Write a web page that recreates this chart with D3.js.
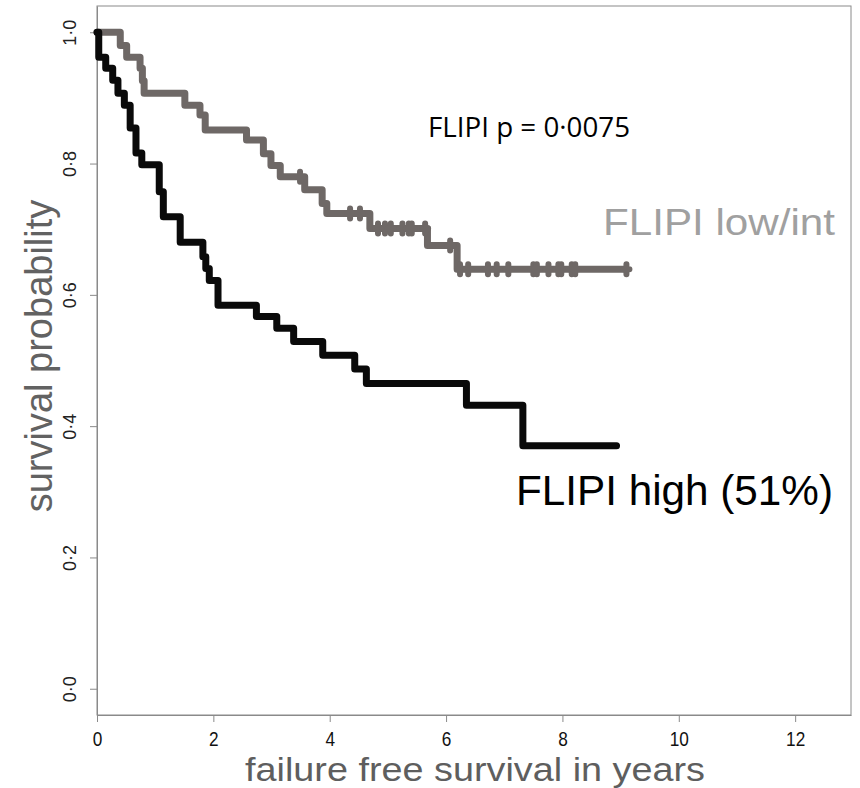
<!DOCTYPE html>
<html>
<head>
<meta charset="utf-8">
<script src="https://cdn.jsdelivr.net/npm/d3@7"></script>
<style>
  body { margin: 0; background: #fff; }
  svg { display: block; }
</style>
</head>
<body>
<script>
'use strict';

// FLIPI high (black) – event times (years) and survival after each step
var highTime = [0, 0.03, 0.15, 0.27, 0.36, 0.47, 0.57, 0.67, 0.77, 1.07, 1.14, 1.43, 1.82, 1.87, 1.93, 2.08, 2.74, 3.09, 3.38, 3.88, 4.43, 4.63, 6.35, 7.32, 8.93];
var highSurv = [1.0, 0.962, 0.945, 0.927, 0.907, 0.889, 0.854, 0.816, 0.798, 0.757, 0.719, 0.680, 0.658, 0.640, 0.622, 0.584, 0.567, 0.549, 0.529, 0.508, 0.487, 0.465, 0.432, 0.370, 0.370];

// FLIPI low/int (grey)
var lowTime = [0, 0.40, 0.51, 0.74, 0.78, 0.81, 1.51, 1.77, 1.86, 2.57, 2.86, 2.99, 3.15, 3.57, 3.87, 3.95, 4.69, 5.68, 6.19, 9.10];
var lowSurv = [1.0, 0.980, 0.962, 0.945, 0.926, 0.907, 0.889, 0.874, 0.851, 0.836, 0.815, 0.797, 0.780, 0.760, 0.739, 0.724, 0.701, 0.675, 0.639, 0.639];
var lowCensor = [3.49, 4.35, 4.52, 4.83, 4.95, 5.05, 5.25, 5.36, 5.41, 5.64, 6.07, 6.24, 6.38, 6.72, 6.87, 7.07, 7.50, 7.56, 7.76, 7.93, 7.98, 8.16, 8.22, 9.10];

var xTicks = [0, 2, 4, 6, 8, 10, 12];
var yTicks = [0, 0.2, 0.4, 0.6, 0.8, 1.0];

var W = 860, H = 788;
var plotL = 97, plotR = 851, plotT = 6, plotB = 715;

var svg = d3.select('body').append('svg').attr('width', W).attr('height', H);

var x = d3.scaleLinear().domain([0, 12.96]).range([plotL, plotR]);
var y = d3.scaleLinear().domain([-0.04, 1.04]).range([plotB, plotT]);

var toPts = function (t, s) {
  return t.map(function (d, i) { return [d, s[i]]; });
};

var survAt = function (t, s, v) {
  var k = d3.bisectRight(t, v) - 1;
  return s[Math.max(0, k)];
};

// frame
svg.append('rect')
  .attr('x', plotL).attr('y', plotT)
  .attr('width', plotR - plotL).attr('height', plotB - plotT)
  .attr('fill', 'none').attr('stroke', '#8a8a8a').attr('stroke-width', 1);

// x axis (narrow digits: squeeze horizontally)
var gx = svg.append('g')
  .attr('transform', 'translate(0,' + plotB + ')')
  .call(d3.axisBottom(x).tickValues(xTicks).tickSize(7).tickSizeOuter(0).tickFormat(d3.format('d')));
gx.select('.domain').attr('stroke', '#8a8a8a');
gx.selectAll('.tick line').attr('stroke', '#8a8a8a');
gx.selectAll('.tick text')
  .attr('y', 0).attr('dy', 0)
  .attr('transform', 'translate(0,31) scale(0.82,1)')
  .attr('fill', '#111')
  .style('font-family', '"Liberation Sans", Arial, sans-serif')
  .style('font-size', '21px');

// y axis, rotated labels
var gy = svg.append('g')
  .attr('transform', 'translate(' + plotL + ',0)')
  .call(d3.axisLeft(y).tickValues(yTicks).tickSize(7).tickSizeOuter(0).tickFormat(function (d) {
    return d3.format('.1f')(d).replace('.', '\u00b7');
  }));
gy.select('.domain').attr('stroke', '#8a8a8a');
gy.selectAll('.tick line').attr('stroke', '#8a8a8a');
gy.selectAll('.tick text')
  .attr('transform', 'rotate(-90)')
  .attr('x', 0).attr('y', -21).attr('dy', 0)
  .attr('text-anchor', 'middle')
  .attr('fill', '#222')
  .style('font-family', '"Liberation Sans", Arial, sans-serif')
  .style('font-size', '18px');

// curves
var line = d3.line()
  .x(function (d) { return x(d[0]); })
  .y(function (d) { return y(d[1]); })
  .curve(d3.curveStepAfter);

svg.append('path')
  .datum(toPts(lowTime, lowSurv))
  .attr('d', line)
  .attr('fill', 'none').attr('stroke', '#6e6866')
  .attr('stroke-width', 7).attr('stroke-linejoin', 'round').attr('stroke-linecap', 'round');

// censor marks on the low/int curve
svg.append('g').selectAll('path')
  .data(lowCensor)
  .enter().append('path')
  .attr('d', function (d) {
    var cx = x(d), cy = y(survAt(lowTime, lowSurv, d));
    return 'M' + (cx - 3) + ',' + cy + 'H' + (cx + 3) + 'M' + cx + ',' + (cy - 5) + 'V' + (cy + 5);
  })
  .attr('fill', 'none').attr('stroke', '#6e6866')
  .attr('stroke-width', 6).attr('stroke-linecap', 'round');

svg.append('path')
  .datum(toPts(highTime, highSurv))
  .attr('d', line)
  .attr('fill', 'none').attr('stroke', '#0a0a0a')
  .attr('stroke-width', 7).attr('stroke-linejoin', 'round').attr('stroke-linecap', 'round');

// axis titles
svg.append('text')
  .attr('transform', 'translate(52,356) rotate(-90)')
  .attr('text-anchor', 'middle')
  .attr('fill', '#626262')
  .style('font-family', '"Liberation Sans", Arial, sans-serif')
  .style('font-size', '38px')
  .text('survival probability');

svg.append('text')
  .attr('x', 475).attr('y', 781)
  .attr('text-anchor', 'middle')
  .attr('fill', '#5e5e5e')
  .style('font-family', '"Liberation Sans", Arial, sans-serif')
  .style('font-size', '34px')
  .attr('textLength', 460).attr('lengthAdjust', 'spacingAndGlyphs')
  .text('failure free survival in years');

// annotations
svg.append('text')
  .attr('x', 428).attr('y', 137)
  .attr('fill', '#000')
  .style('font-family', '"Open Sans", "Noto Sans", sans-serif')
  .style('font-size', '27px')
  .attr('textLength', 202).attr('lengthAdjust', 'spacingAndGlyphs')
  .text('FLIPI p = 0\u00b70075');

svg.append('text')
  .attr('x', 603).attr('y', 235)
  .attr('fill', '#a0a0a0')
  .style('font-family', '"Liberation Sans", Arial, sans-serif')
  .style('font-size', '37px')
  .attr('textLength', 232).attr('lengthAdjust', 'spacingAndGlyphs')
  .text('FLIPI low/int');

svg.append('text')
  .attr('x', 516).attr('y', 505)
  .attr('fill', '#000')
  .style('font-family', '"Liberation Sans", Arial, sans-serif')
  .style('font-size', '43px')
  .attr('textLength', 317).attr('lengthAdjust', 'spacingAndGlyphs')
  .text('FLIPI high (51%)');
</script>
</body>
</html>
